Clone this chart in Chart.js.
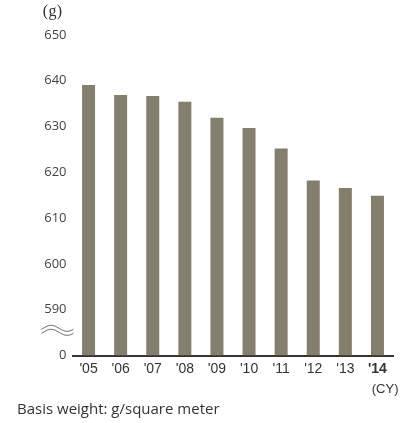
<!DOCTYPE html>
<html>
<head>
<meta charset="utf-8">
<script src="https://cdn.jsdelivr.net/npm/chart.js@4.4.1/dist/chart.umd.min.js"></script>
<style>
  html, body { margin: 0; padding: 0; background: #fff; }
  #wrap { width: 410px; height: 423px; }
</style>
</head>
<body>
<div id="wrap"><canvas id="chart1" width="410" height="423"></canvas></div>
<script>
// data
var years = ["'05", "'06", "'07", "'08", "'09", "'10", "'11", "'12", "'13", "'14"];
var weights = [639.1, 636.9, 636.7, 635.4, 631.9, 629.7, 625.2, 618.2, 616.6, 614.9];
var tickValues = [0, 590, 600, 610, 620, 630, 640, 650];

// broken axis: 0 sits one step below 590
var BREAK_BASE = 580;
function toAxis(v) { return v - BREAK_BASE; }
function fromAxis(v) { return v === 0 ? 0 : v + BREAK_BASE; }

var textPlugin = {
    id: 'extraText',
    afterDraw: function (chart) {
        var ctx = chart.ctx;
        var area = chart.chartArea;
        var y = chart.scales.y;
        ctx.save();
        // axis break squiggle
        var yb = y.getPixelForValue(5.5);
        ctx.strokeStyle = '#555';
        ctx.lineWidth = 1;
        [-2, 2].forEach(function (off) {
            ctx.beginPath();
            for (var x = area.left - 31; x <= area.left + 1; x += 0.5) {
                var t = (x - (area.left - 31)) / 32;
                var yy = yb + off - 3 * Math.sin(t * Math.PI * 2 - Math.PI * 0.1);
                if (x === area.left - 31) ctx.moveTo(x, yy); else ctx.lineTo(x, yy);
            }
            ctx.stroke();
        });
        // unit
        ctx.fillStyle = '#333';
        ctx.textBaseline = 'middle';
        ctx.textAlign = 'center';
        ctx.font = '16px "Liberation Serif"';
        ctx.fillText('(', 45.5, 12);
        ctx.fillText('g', 52.5, 12);
        ctx.fillText(')', 59.5, 12);
        ctx.textAlign = 'right';
        ctx.font = '13px "Liberation Sans"';
        ctx.fillText('(CY)', area.right + 5, 389);
        ctx.textAlign = 'left';
        ctx.font = '15px "Open Sans"';
        ctx.fillStyle = '#333';
        ctx.fillText('Basis weight: g/square meter', 17, 410);
        ctx.restore();
    }
};

var ctx_chart1 = document.getElementById('chart1').getContext('2d');
var chart1 = new Chart(ctx_chart1, {
    type: 'bar',
    data: {
        labels: years,
        datasets: [{
            label: 'Basis weight',
            data: weights.map(toAxis),
            backgroundColor: '#847e6c',
            barPercentage: 0.405,
            categoryPercentage: 1
        }]
    },
    options: {
        responsive: false,
        animation: false,
        layout: { padding: { top: 35, right: 16.5, bottom: 37.5, left: 0 } },
        plugins: {
            legend: { display: false },
            tooltip: {
                callbacks: {
                    label: function (c) { return weights[c.dataIndex] + ' g'; }
                }
            }
        },
        scales: {
            x: {
                afterFit: function (s) { s.height = 30; },
                grid: { display: false, drawTicks: false },
                border: { display: true, color: '#333', width: 2 },
                ticks: {
                    padding: 5,
                    color: '#333',
                    font: function (c) {
                        return {
                            family: '"Liberation Sans"',
                            size: 14,
                            weight: c.index === years.length - 1 ? 'bold' : 'normal'
                        };
                    }
                }
            },
            y: {
                min: 0,
                max: toAxis(tickValues[tickValues.length - 1]),
                afterFit: function (s) { s.width = 72.5; },
                grid: { display: false, drawTicks: false },
                border: { display: false },
                afterBuildTicks: function (s) {
                    s.ticks = tickValues.map(function (v) { return { value: v === 0 ? 0 : toAxis(v) }; });
                },
                ticks: {
                    padding: 6,
                    color: '#444',
                    font: { family: '"Open Sans"', size: 13 },
                    callback: function (v) { return String(fromAxis(v)); }
                }
            }
        }
    },
    plugins: [textPlugin]
});
</script>
</body>
</html>
